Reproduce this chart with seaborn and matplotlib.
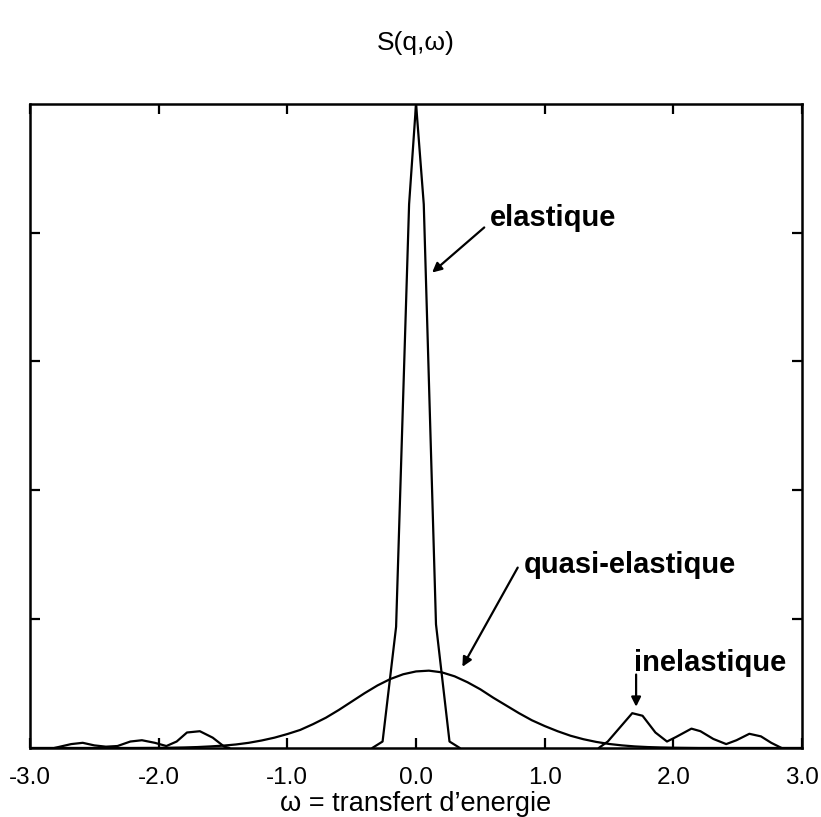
import numpy as np
import pandas as pd
import matplotlib
matplotlib.use("Agg")
import matplotlib.pyplot as plt
import seaborn as sns

# =====================================================
# DATA
# =====================================================

# elastic peak
elastic_w = [-0.34, -0.26, -0.155, -0.054, 0.0, 0.06, 0.155, 0.26, 0.34]
elastic_s = [0.0, 0.05, 0.94, 4.22, 5.0, 4.22, 0.96, 0.05, 0.0]

# quasi-elastic broad line
quasi_w = [-3.0, -2.2, -2.0, -1.9, -1.8, -1.7, -1.6, -1.5, -1.4, -1.3,
           -1.2, -1.1, -1.0, -0.9, -0.8, -0.7, -0.6, -0.5, -0.4, -0.3,
           -0.2, -0.1, 0.0, 0.1, 0.2, 0.3, 0.4, 0.5, 0.6, 0.7,
           0.8, 0.9, 1.0, 1.1, 1.2, 1.3, 1.4, 1.5, 1.6, 1.7,
           1.8, 1.9, 2.0, 2.2, 3.0]
quasi_s = [0.0, 0.0, 0.001, 0.002, 0.004, 0.007, 0.012, 0.018, 0.027, 0.04,
           0.058, 0.08, 0.108, 0.14, 0.185, 0.235, 0.295, 0.36, 0.425, 0.485,
           0.535, 0.572, 0.594, 0.60, 0.587, 0.556, 0.51, 0.455, 0.39, 0.33,
           0.27, 0.215, 0.17, 0.13, 0.095, 0.068, 0.047, 0.031, 0.02, 0.012,
           0.007, 0.004, 0.002, 0.0, 0.0]

# inelastic side bands (left)
inel_left_w = [-2.81, -2.68, -2.59, -2.50, -2.41, -2.32, -2.22, -2.13,
               -2.03, -1.94, -1.86, -1.78, -1.68, -1.58, -1.49, -1.45]
inel_left_s = [0.0, 0.03, 0.04, 0.02, 0.01, 0.015, 0.05, 0.06,
               0.04, 0.015, 0.05, 0.12, 0.13, 0.08, 0.01, 0.0]

# inelastic side bands (right)
inel_right_w = [1.42, 1.49, 1.68, 1.76, 1.86, 1.95, 2.02, 2.14,
                2.21, 2.31, 2.41, 2.49, 2.59, 2.68, 2.76, 2.84]
inel_right_s = [0.0, 0.05, 0.27, 0.25, 0.12, 0.05, 0.085, 0.15,
                0.13, 0.07, 0.03, 0.06, 0.11, 0.09, 0.04, 0.0]

x_ticks = [-3.0, -2.0, -1.0, 0.0, 1.0, 2.0, 3.0]
x_tick_labels = ["-3.0", "-2.0", "-1.0", "0.0", "1.0", "2.0", "3.0"]
y_ticks = [1, 2, 3, 4]

# =====================================================
# STYLE
# =====================================================

sns.set_style("ticks")
plt.rcParams["font.family"] = ["Liberation Sans", "DejaVu Sans"]
plt.rcParams["text.color"] = "black"
plt.rcParams["axes.labelcolor"] = "black"
plt.rcParams["xtick.color"] = "black"
plt.rcParams["ytick.color"] = "black"

fig = plt.figure(figsize=(8.21, 8.17), dpi=100)
ax = fig.add_axes([0.0365, 0.0845, 0.9405, 0.7885])

series = [
    (elastic_w, elastic_s),
    (quasi_w, quasi_s),
    (inel_left_w, inel_left_s),
    (inel_right_w, inel_right_s),
]

for w, s in series:
    df = pd.DataFrame({"w": w, "s": s})
    sns.lineplot(data=df, x="w", y="s", ax=ax, color="black",
                 linewidth=1.6, sort=False, estimator=None)

ax.set_xlim(-3.0, 3.0)
ax.set_ylim(0, 5.0)

ax.set_xticks(x_ticks)
ax.set_xticklabels(x_tick_labels, fontsize=17.5, color="black")
ax.set_yticks(y_ticks)
ax.set_yticklabels([])

ax.tick_params(axis="both", direction="in", length=7, width=1.6,
               top=True, right=True, colors="black")
ax.tick_params(axis="x", pad=14)

for sp in ax.spines.values():
    sp.set_linewidth(1.8)
    sp.set_color("black")

ax.set_xlabel("\u03c9 = transfert d\u2019energie", fontsize=19.5, labelpad=1,
              color="black")
ax.set_ylabel("")
ax.set_title("S(q,\u03c9)", fontsize=19, pad=39, color="black")

# =====================================================
# ANNOTATIONS
# =====================================================

arrow = dict(arrowstyle="-|>", color="black", lw=1.6,
             mutation_scale=14, shrinkA=0, shrinkB=0)

ax.text(0.57, 4.11, "elastique", fontsize=21, fontweight="bold",
        ha="left", va="center", color="black")
ax.annotate("", xy=(0.125, 3.69), xytext=(0.53, 4.04), arrowprops=arrow)

ax.text(0.84, 1.42, "quasi-elastique", fontsize=21, fontweight="bold",
        ha="left", va="center", color="black")
ax.annotate("", xy=(0.36, 0.63), xytext=(0.79, 1.4), arrowprops=arrow)

ax.text(1.69, 0.66, "inelastique", fontsize=21, fontweight="bold",
        ha="left", va="center", color="black")
ax.annotate("", xy=(1.71, 0.32), xytext=(1.71, 0.57), arrowprops=arrow)

fig.savefig("out.png", dpi=100)
